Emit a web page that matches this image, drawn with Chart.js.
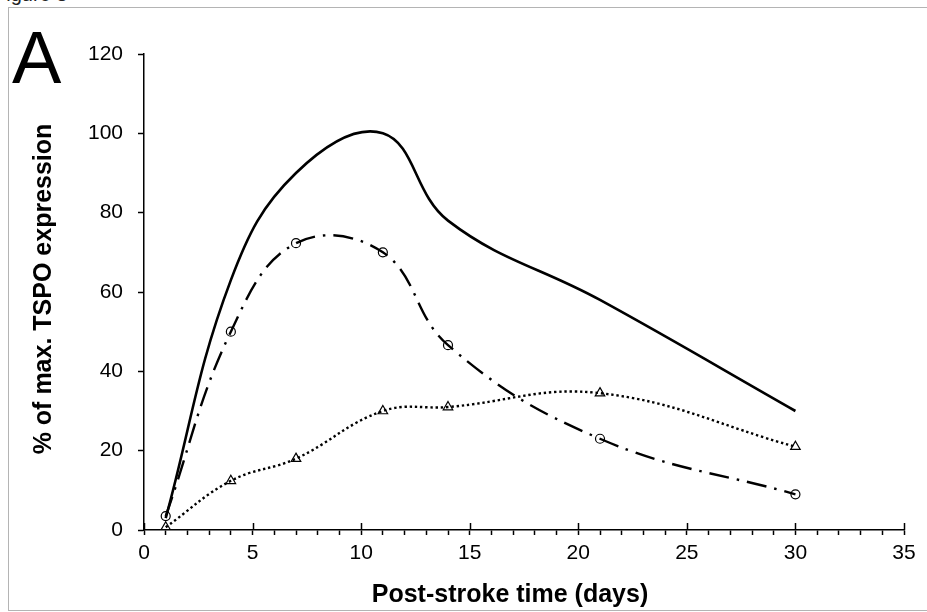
<!DOCTYPE html>
<html>
<head>
<meta charset="utf-8">
<script src="https://cdn.jsdelivr.net/npm/chart.js@4.4.1/dist/chart.umd.min.js"></script>
<style>
  html, body { margin: 0; padding: 0; background: #fff; overflow: hidden; }
  #wrap { position: relative; width: 927px; height: 612px; }
  #frame { position: absolute; left: 8px; top: 7px; width: 1000px; height: 602px; border: 1px solid #b4b4b4; }
  #fig { position: absolute; left: -6px; top: -17px; font: 20px "Liberation Sans", Arial, sans-serif; color: #222; }
  canvas { position: absolute; left: 0; top: 0; }
</style>
</head>
<body>
<div id="wrap">
  <div id="frame"></div>
  <div id="fig">Figure 3</div>
  <canvas id="chart" width="927" height="612"></canvas>
</div>
<script>
// values (% of max TSPO expression)
const days = [1, 4, 7, 11, 14, 21, 30];
const solidLine = [3, 63, 90, 100, 78, 58, 30];
const circleLine = [3.5, 50, 72.3, 70, 46.6, 23, 9];
const triangleLine = [0.7, 12.4, 18, 30, 31, 34.5, 21];

const xTicks = [0, 5, 10, 15, 20, 25, 30, 35];
const yTicks = [0, 20, 40, 60, 80, 100, 120];

const FONT = '"Liberation Sans", Arial, sans-serif';

function pts(vals) {
  return days.map((d, i) => ({ x: d, y: vals[i] }));
}

// extra bits Excel draws: major x ticks crossing the axis, titles, panel letter
const decorations = {
  id: 'decorations',
  afterDraw(chart) {
    const c = chart.ctx;
    const xs = chart.scales.x;
    const ay = chart.chartArea.bottom;
    c.save();
    c.strokeStyle = '#000';
    c.lineWidth = 1.5;
    xTicks.forEach(v => {
      const px = Math.round(xs.getPixelForValue(v)) + 0.5;
      c.beginPath();
      c.moveTo(px, ay - 7);
      c.lineTo(px, ay);
      c.stroke();
    });

    c.fillStyle = '#000';
    c.font = 'bold 25px ' + FONT;
    c.textAlign = 'center';
    c.textBaseline = 'alphabetic';
    c.fillText('Post-stroke time (days)', 510, 602);

    c.translate(51, 289);
    c.rotate(-Math.PI / 2);
    c.fillText('% of max. TSPO expression', 0, 0);
    c.restore();

    c.save();
    c.fillStyle = '#000';
    c.font = '74px ' + FONT;
    c.textAlign = 'left';
    c.textBaseline = 'alphabetic';
    c.fillText('A', 12, 83);
    c.restore();
  }
};

new Chart(document.getElementById('chart'), {
  type: 'line',
  data: {
    datasets: [
      {
        data: pts(solidLine),
        borderColor: '#000',
        borderWidth: 2.6,
        pointRadius: 0,
        tension: 0.4
      },
      {
        data: pts(circleLine),
        borderColor: '#000',
        borderWidth: 2.4,
        borderDash: [20, 8, 2.5, 8],
        pointStyle: 'circle',
        pointRadius: 4.5,
        pointBorderWidth: 1.2,
        pointBorderColor: '#000',
        pointBackgroundColor: 'rgba(0,0,0,0)',
        tension: 0.4
      },
      {
        data: pts(triangleLine),
        borderColor: '#000',
        borderWidth: 2.4,
        borderDash: [2.4, 2.8],
        pointStyle: 'triangle',
        pointRadius: 5.5,
        pointBorderWidth: 1.2,
        pointBorderColor: '#000',
        pointBackgroundColor: 'rgba(0,0,0,0)',
        tension: 0.4
      }
    ]
  },
  options: {
    responsive: false,
    animation: false,
    devicePixelRatio: 1,
    layout: { padding: { left: 0, right: 23, top: 54, bottom: 0 } },
    plugins: { legend: { display: false }, tooltip: { enabled: false } },
    scales: {
      x: {
        type: 'linear',
        min: 0,
        max: 35,
        afterFit(s) { s.height = 82; },
        afterBuildTicks(s) {
          s.ticks = [];
          for (let v = 0; v <= 35; v++) s.ticks.push({ value: v });
        },
        ticks: {
          autoSkip: false,
          maxRotation: 0,
          padding: 6,
          color: '#000',
          font: { family: FONT, size: 21 },
          callback: v => (xTicks.includes(v) ? String(v) : '')
        },
        grid: {
          drawOnChartArea: false,
          tickLength: 5,
          tickColor: '#000',
          tickWidth: 1.5
        },
        border: { display: true, color: '#000', width: 1.5 }
      },
      y: {
        min: 0,
        max: 120,
        afterFit(s) { s.width = 144; },
        afterBuildTicks(s) { s.ticks = yTicks.map(v => ({ value: v })); },
        ticks: {
          padding: 15,
          color: '#000',
          font: { family: FONT, size: 21 }
        },
        grid: {
          drawOnChartArea: false,
          tickLength: 6,
          tickColor: '#000',
          tickWidth: 1.5
        },
        border: { display: true, color: '#000', width: 1.5 }
      }
    }
  },
  plugins: [decorations]
});
</script>
</body>
</html>
